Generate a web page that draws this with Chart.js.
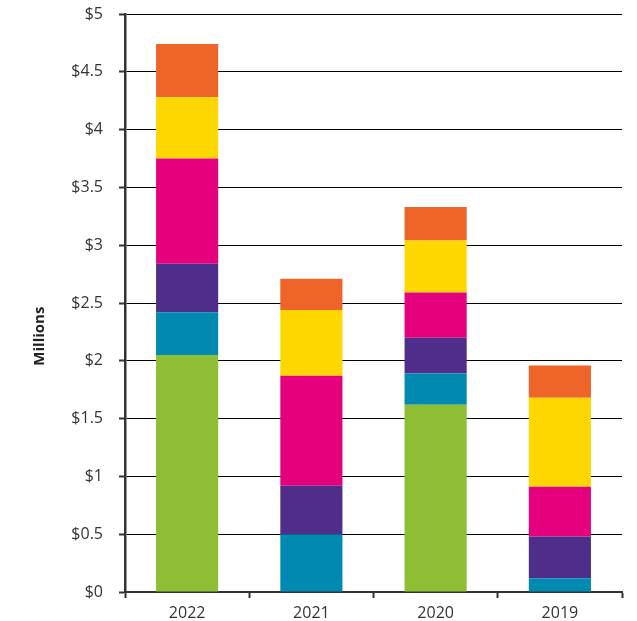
<!DOCTYPE html>
<html>
<head>
<meta charset="utf-8">
<script src="https://cdn.jsdelivr.net/npm/chart.js@4"></script>
<style>
  html, body { margin: 0; padding: 0; background: #fff; }
  #wrap { width: 637px; height: 621px; }
</style>
</head>
<body>
<div id="wrap"><canvas id="chart"></canvas></div>
<script>
const years = ['2022', '2021', '2020', '2019'];

// segment sizes, millions (bottom to top)
const green  = [2.05, 0,    1.62, 0];
const teal   = [0.37, 0.50, 0.27, 0.12];
const purple = [0.42, 0.42, 0.31, 0.36];
const pink   = [0.91, 0.95, 0.39, 0.43];
const yellow = [0.53, 0.57, 0.45, 0.77];
const orange = [0.46, 0.27, 0.29, 0.28];

const yTicks = [0, 0.5, 1, 1.5, 2, 2.5, 3, 3.5, 4, 4.5, 5];

const series = [
  { name: 'green',  data: green,  color: '#8DBE33' },
  { name: 'teal',   data: teal,   color: '#0089B1' },
  { name: 'purple', data: purple, color: '#4F2D8A' },
  { name: 'pink',   data: pink,   color: '#E5007D' },
  { name: 'yellow', data: yellow, color: '#FFD700' },
  { name: 'orange', data: orange, color: '#EF6429' }
];

const font = "'Open Sans', 'Noto Sans', sans-serif";

new Chart(document.getElementById('chart').getContext('2d'), {
  type: 'bar',
  data: {
    labels: years,
    datasets: series.map(s => ({
      label: s.name,
      data: s.data,
      backgroundColor: s.color,
      borderWidth: 0,
      categoryPercentage: 1,
      barPercentage: 0.5
    }))
  },
  options: {
    responsive: true,
    maintainAspectRatio: false,
    animation: false,
    layout: { padding: { top: 14, right: 15, left: 0, bottom: 0 } },
    plugins: {
      legend: { display: false },
      tooltip: { enabled: false }
    },
    scales: {
      x: {
        stacked: true,
        grid: {
          offset: true,
          drawOnChartArea: false,
          drawTicks: true,
          tickLength: 6,
          tickColor: '#333',
          tickWidth: 2
        },
        border: { color: '#333', width: 2 },
        ticks: {
          color: '#333',
          font: { family: font, size: 16 },
          padding: 6
        },
        afterFit: s => { s.height = 29; s.paddingLeft = 0; s.paddingRight = 0; }
      },
      y: {
        stacked: true,
        min: 0,
        max: 5,
        afterBuildTicks: s => { s.ticks = yTicks.map(v => ({ value: v })); },
        grid: {
          color: '#000',
          lineWidth: 1,
          tickLength: 6,
          tickColor: '#333',
          tickWidth: 2
        },
        border: { color: '#333', width: 2.5 },
        ticks: {
          color: '#333',
          font: { family: font, size: 16 },
          padding: 16,
          callback: v => '$' + v
        },
        title: {
          display: true,
          // trailing spaces push the label down a bit, like the original
          text: 'Millions' + '\u00A0'.repeat(17),
          color: '#222',
          font: { family: font, size: 15, weight: 'bold' },
          padding: { top: 31, bottom: 0 }
        },
        afterFit: s => { s.width = 125; s.paddingTop = 0; s.paddingBottom = 0; }
      }
    }
  }
});
</script>
</body>
</html>
